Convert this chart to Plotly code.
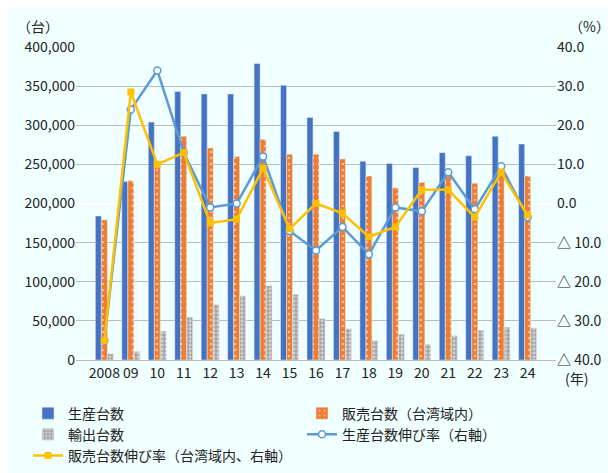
import plotly.graph_objects as go

years = ["2008", "09", "10", "11", "12", "13", "14", "15", "16", "17", "18", "19", "20", "21", "22", "23", "24"]
production = [184000, 228000, 304000, 343000, 340000, 340000, 379000, 351000, 310000, 292000,
              254000, 251000, 246000, 265000, 261000, 286000, 276000]
sales = [179000, 229000, 250000, 286000, 271000, 260000, 282000, 263000, 263000, 257000,
         235000, 220000, 227000, 235000, 226000, 240000, 235000]
exports = [8000, 11000, 37000, 55000, 71000, 82000, 95000, 84000, 53000, 40000,
           25000, 33000, 20000, 31000, 38000, 42000, 41000]
prod_growth = [-35, 24, 34, 13, -1, 0, 12, -7, -12, -6, -13, -1, -2, 8, -1.5, 9.5, -3.5]
sales_growth = [-35, 28.5, 10, 13, -5, -4, 9, -6.5, 0, -2.5, -8.5, -6, 3.5, 3.5, -3.5, 8, -3]

font = "Noto Sans CJK JP"
fig = go.Figure()
fig.add_bar(x=years, y=production, name="生産台数", marker_color="#4472C4")
fig.add_bar(x=years, y=sales, name="販売台数（台湾域内）", marker=dict(
    color="#ED7D31", pattern=dict(shape=".", fgcolor="white", bgcolor="#ED7D31", size=6, solidity=0.15)))
fig.add_bar(x=years, y=exports, name="輸出台数", marker=dict(
    color="#A5A5A5", pattern=dict(shape=".", fgcolor="white", bgcolor="#A5A5A5", size=4, solidity=0.4)))
fig.add_scatter(x=years, y=prod_growth, name="生産台数伸び率（右軸）", yaxis="y2",
                mode="lines+markers", line=dict(color="#5B9BD5", width=2.5),
                marker=dict(symbol="circle", size=7, color="white", line=dict(color="#5B9BD5", width=1.5)))
fig.add_scatter(x=years, y=sales_growth, name="販売台数伸び率（台湾域内、右軸）", yaxis="y2",
                mode="lines+markers", line=dict(color="#FFC000", width=2.5),
                marker=dict(symbol="square", size=7, color="#FFC000"))

rticks = [40, 30, 20, 10, 0, -10, -20, -30, -40]
rlabels = [f"{v:.1f}" if v >= 0 else f"△ {abs(v):.1f}" for v in rticks]

fig.update_layout(
    width=616, height=473,
    paper_bgcolor="#F0FFFF", plot_bgcolor="#F0FFFF",
    font=dict(family=font, size=14, color="#222"),
    margin=dict(l=68, r=68, t=39, b=121, autoexpand=False),
    barmode="group", bargap=0.32, bargroupgap=0,
    xaxis=dict(tickfont=dict(size=14), tickangle=0, showline=True, linecolor="#BBB"),
    yaxis=dict(range=[0, 400000], dtick=50000, tickformat=",", gridcolor="#BBB",
               tickfont=dict(size=14)),
    yaxis2=dict(overlaying="y", side="right", range=[-40, 40], tickvals=rticks,
                ticktext=rlabels, showgrid=False, tickfont=dict(size=14)),
    legend=dict(orientation="h", x=-0.1, y=-0.12, xanchor="left", yanchor="top",
                entrywidth=0.5, entrywidthmode="fraction", font=dict(size=14),
                traceorder="normal", tracegroupgap=0),
    annotations=[
        dict(text="（台）", xref="paper", yref="paper", x=-0.08, y=1.03, showarrow=False,
             xanchor="center", yanchor="bottom", font=dict(size=14)),
        dict(text="（%）", xref="paper", yref="paper", x=1.07, y=1.03, showarrow=False,
             xanchor="center", yanchor="bottom", font=dict(size=14)),
        dict(text="(年)", xref="paper", yref="paper", x=1.015, y=-0.02, showarrow=False,
             xanchor="left", yanchor="top", font=dict(size=14)),
    ],
)
fig.write_html("out.html")
